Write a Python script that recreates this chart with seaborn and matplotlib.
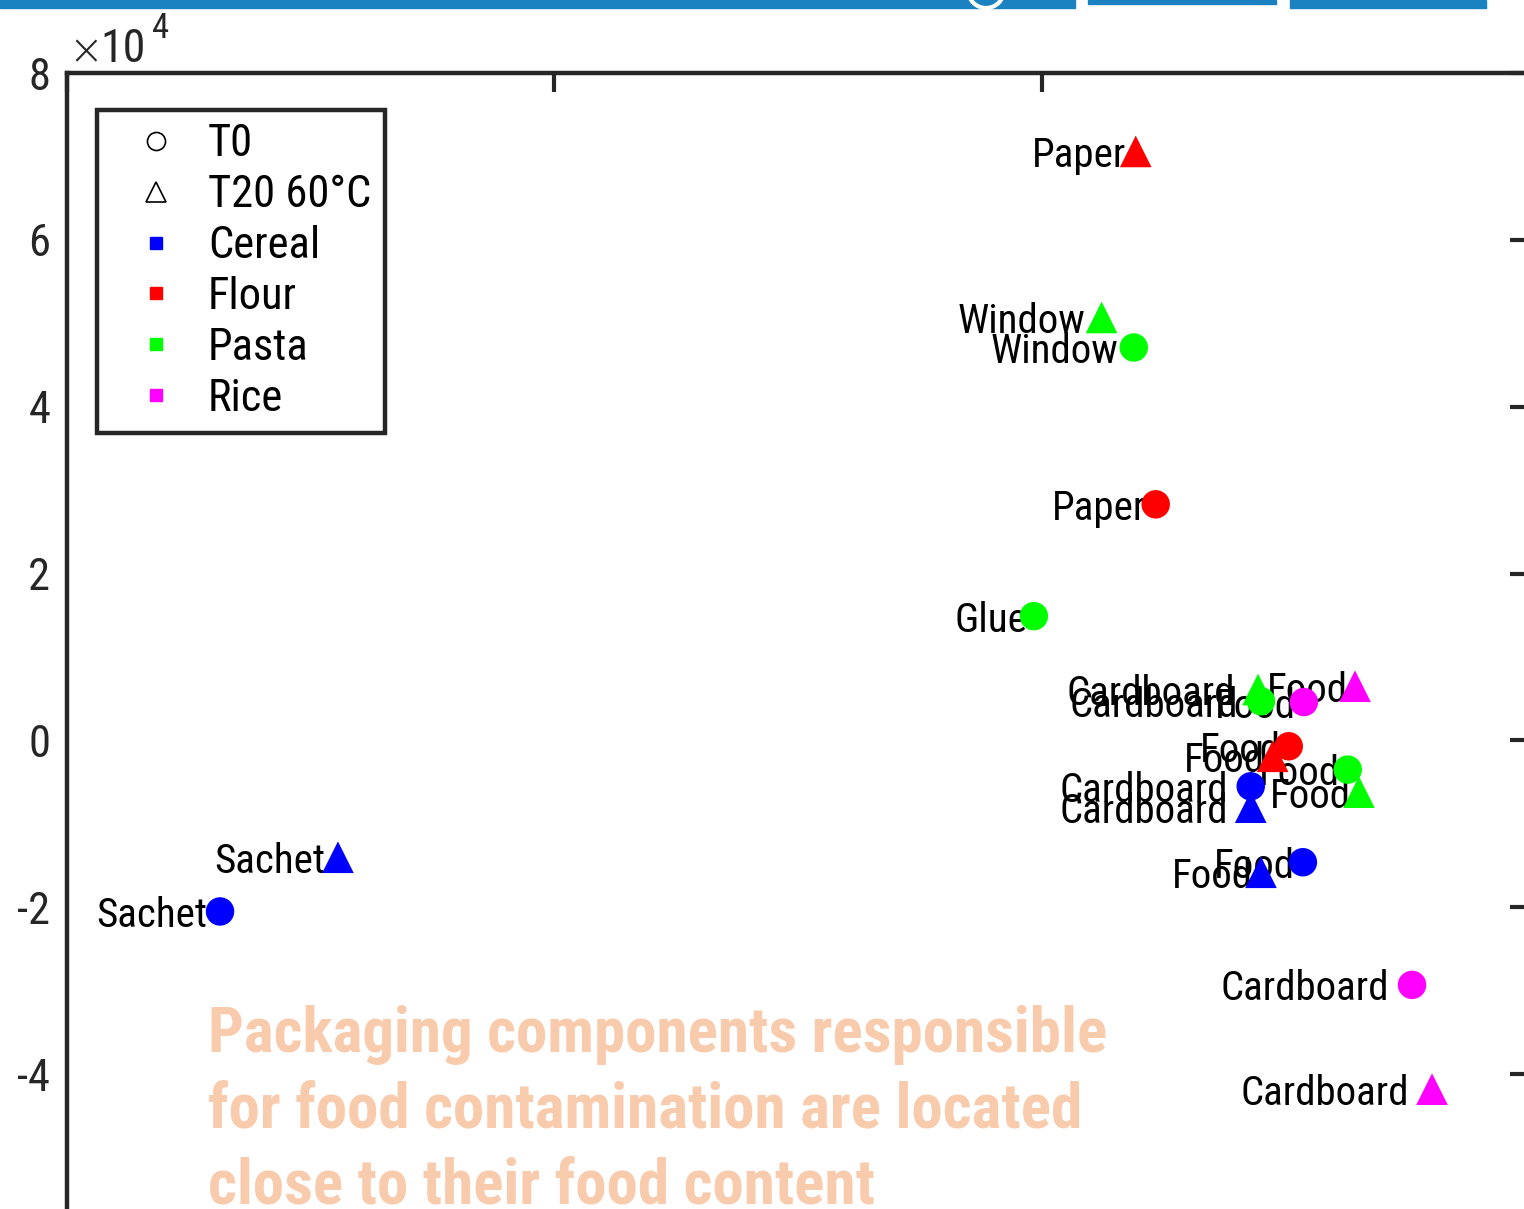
import pandas as pd
import seaborn as sns
import matplotlib.pyplot as plt
from matplotlib.lines import Line2D
from matplotlib.patches import Rectangle, Circle
from matplotlib.ticker import FuncFormatter

# Score plot values (y in raw units, shown x 10^4)
foods = ["Flour", "Pasta", "Pasta", "Flour", "Pasta", "Pasta", "Pasta", "Rice", "Rice",
         "Flour", "Flour", "Pasta", "Pasta", "Cereal", "Cereal", "Cereal", "Cereal",
         "Cereal", "Cereal", "Rice", "Rice"]
times = ["T20 60°C", "T20 60°C", "T0", "T0", "T0", "T20 60°C", "T0", "T0", "T20 60°C",
         "T0", "T20 60°C", "T0", "T20 60°C", "T0", "T20 60°C", "T0", "T20 60°C",
         "T20 60°C", "T0", "T0", "T20 60°C"]
labels = ["Paper", "Window", "Window", "Paper", "Glue", "Cardboard", "Cardboard", "Food", "Food",
          "Food", "Food", "Food", "Food", "Cardboard", "Cardboard", "Food", "Food",
          "Sachet", "Sachet", "Cardboard", "Cardboard"]
xs = [2.193, 2.123, 2.189, 2.234, 1.984, 2.444, 2.450, 2.538, 2.643,
      2.507, 2.474, 2.628, 2.651, 2.429, 2.429, 2.536, 2.450,
      0.556, 0.314, 2.760, 2.801]
ys = [70600, 50700, 47100, 28300, 14900, 6100, 4700, 4600, 6500,
      -700, -1900, -3500, -6200, -5500, -8000, -14600, -15800,
      -14000, -20500, -29300, -41800]

food_order = ["Cereal", "Flour", "Pasta", "Rice"]
palette = {"Cereal": "#0000ff", "Flour": "#ff0000", "Pasta": "#00ff00", "Rice": "#ff00ff"}

df = pd.DataFrame({"x": xs, "y": ys, "food": foods, "time": times, "label": labels})

sns.set_style("white")
plt.rcParams["font.family"] = ["Roboto Condensed", "DejaVu Sans"]

W, H = 1524, 1209
fig = plt.figure(figsize=(W / 100, H / 100), dpi=100)
ax = fig.add_axes([67 / W, (H - 1241) / H, (1529 - 67) / W, (1241 - 73) / H])

sns.scatterplot(data=df[df["time"] == "T0"], x="x", y="y", hue="food", palette=palette,
                marker="o", s=420, linewidth=0, legend=False, ax=ax, zorder=6)
sns.scatterplot(data=df[df["time"] == "T20 60°C"], x="x", y="y", hue="food", palette=palette,
                marker="^", s=520, linewidth=0, legend=False, ax=ax, zorder=6)

anns = []
for _, r in df.iterrows():
    a = ax.annotate(r["label"], (r["x"], r["y"]), xytext=(-10, 0),
                    textcoords="offset pixels", ha="right", va="center_baseline",
                    fontsize=29.5, color="black", zorder=5)
    anns.append(a)

ax.set_xlim(0, 3)
ax.set_ylim(-60000, 80000)
ax.set_xticks([0, 1, 2, 3])
ax.set_yticks([-60000, -40000, -20000, 0, 20000, 40000, 60000, 80000])
ax.yaxis.set_major_formatter(FuncFormatter(lambda v, p: f"{v / 1e4:g}"))
ax.set_xlabel("")
ax.set_ylabel("")

dark = "#262626"
for s in ax.spines.values():
    s.set_linewidth(3.2)
    s.set_color(dark)
ax.tick_params(direction="in", length=14, width=3, colors=dark, labelsize=32,
               top=True, right=True, pad=12)

# exponent label
ax.text(0.001, (1241 - 64) / 1168, "×", transform=ax.transAxes, fontsize=30, color=dark,
        ha="left", va="baseline", family=["DejaVu Sans"], fontweight="light")
ax.text(0.0225, (1241 - 62) / 1168, "10", transform=ax.transAxes, fontsize=33, color=dark,
        ha="left", va="baseline")
ax.text(0.058, (1241 - 38) / 1168, "4", transform=ax.transAxes, fontsize=25, color=dark,
        ha="left", va="baseline")

handles = [Line2D([], [], marker="o", ls="none", mfc="none", mec="black", mew=1.2, ms=13),
           Line2D([], [], marker="^", ls="none", mfc="none", mec="black", mew=1.2, ms=14)]
handles += [Line2D([], [], marker="s", ls="none", mfc=palette[f], mec=palette[f], ms=9)
            for f in food_order]
leg = ax.legend(handles, ["T0", "T20 60°C"] + food_order, loc="upper left",
                bbox_to_anchor=((97 - 67) / 1462, (1241 - 110) / 1168), borderaxespad=0,
                fontsize=32, frameon=True, fancybox=False, framealpha=1, labelcolor="black",
                borderpad=0.3, handlelength=2.05, handletextpad=0.15, labelspacing=0.2)
leg.get_frame().set_edgecolor(dark)
leg.get_frame().set_linewidth(3.2)

# comment text
note = ["Packaging components responsible",
        "for food contamination are located",
        "close to their food content"]
for line, yb in zip(note, [1052, 1128, 1203]):
    fig.text(208 / W, 1 - yb / H, line, fontsize=45.4, fontweight="bold", color="#f8cbad",
             ha="left", va="baseline")

# slide header strip
bar = "#1b82c1"
fig.patches.append(Rectangle((0, 1 - 8 / H), 1075 / W, 8 / H, transform=fig.transFigure,
                             color=bar, zorder=10))
fig.patches.append(Rectangle((1088 / W, 1 - 4 / H), (1276 - 1088) / W, 4 / H,
                             transform=fig.transFigure, color=bar, zorder=10))
fig.patches.append(Rectangle((1290 / W, 1 - 8 / H), (1486 - 1290) / W, 8 / H,
                             transform=fig.transFigure, color=bar, zorder=10))
fig.patches.append(Circle((986, H + 10), 18, transform=None, fill=False,
                          edgecolor="white", linewidth=3, zorder=11))

# gap between label and point grows with label width
fig.canvas.draw()
rend = fig.canvas.get_renderer()
for a in anns:
    w = a.get_window_extent(rend).width
    a.xyann = (-(0.174 * w - 6.5), 0)

fig.savefig("out.png", dpi=100)
